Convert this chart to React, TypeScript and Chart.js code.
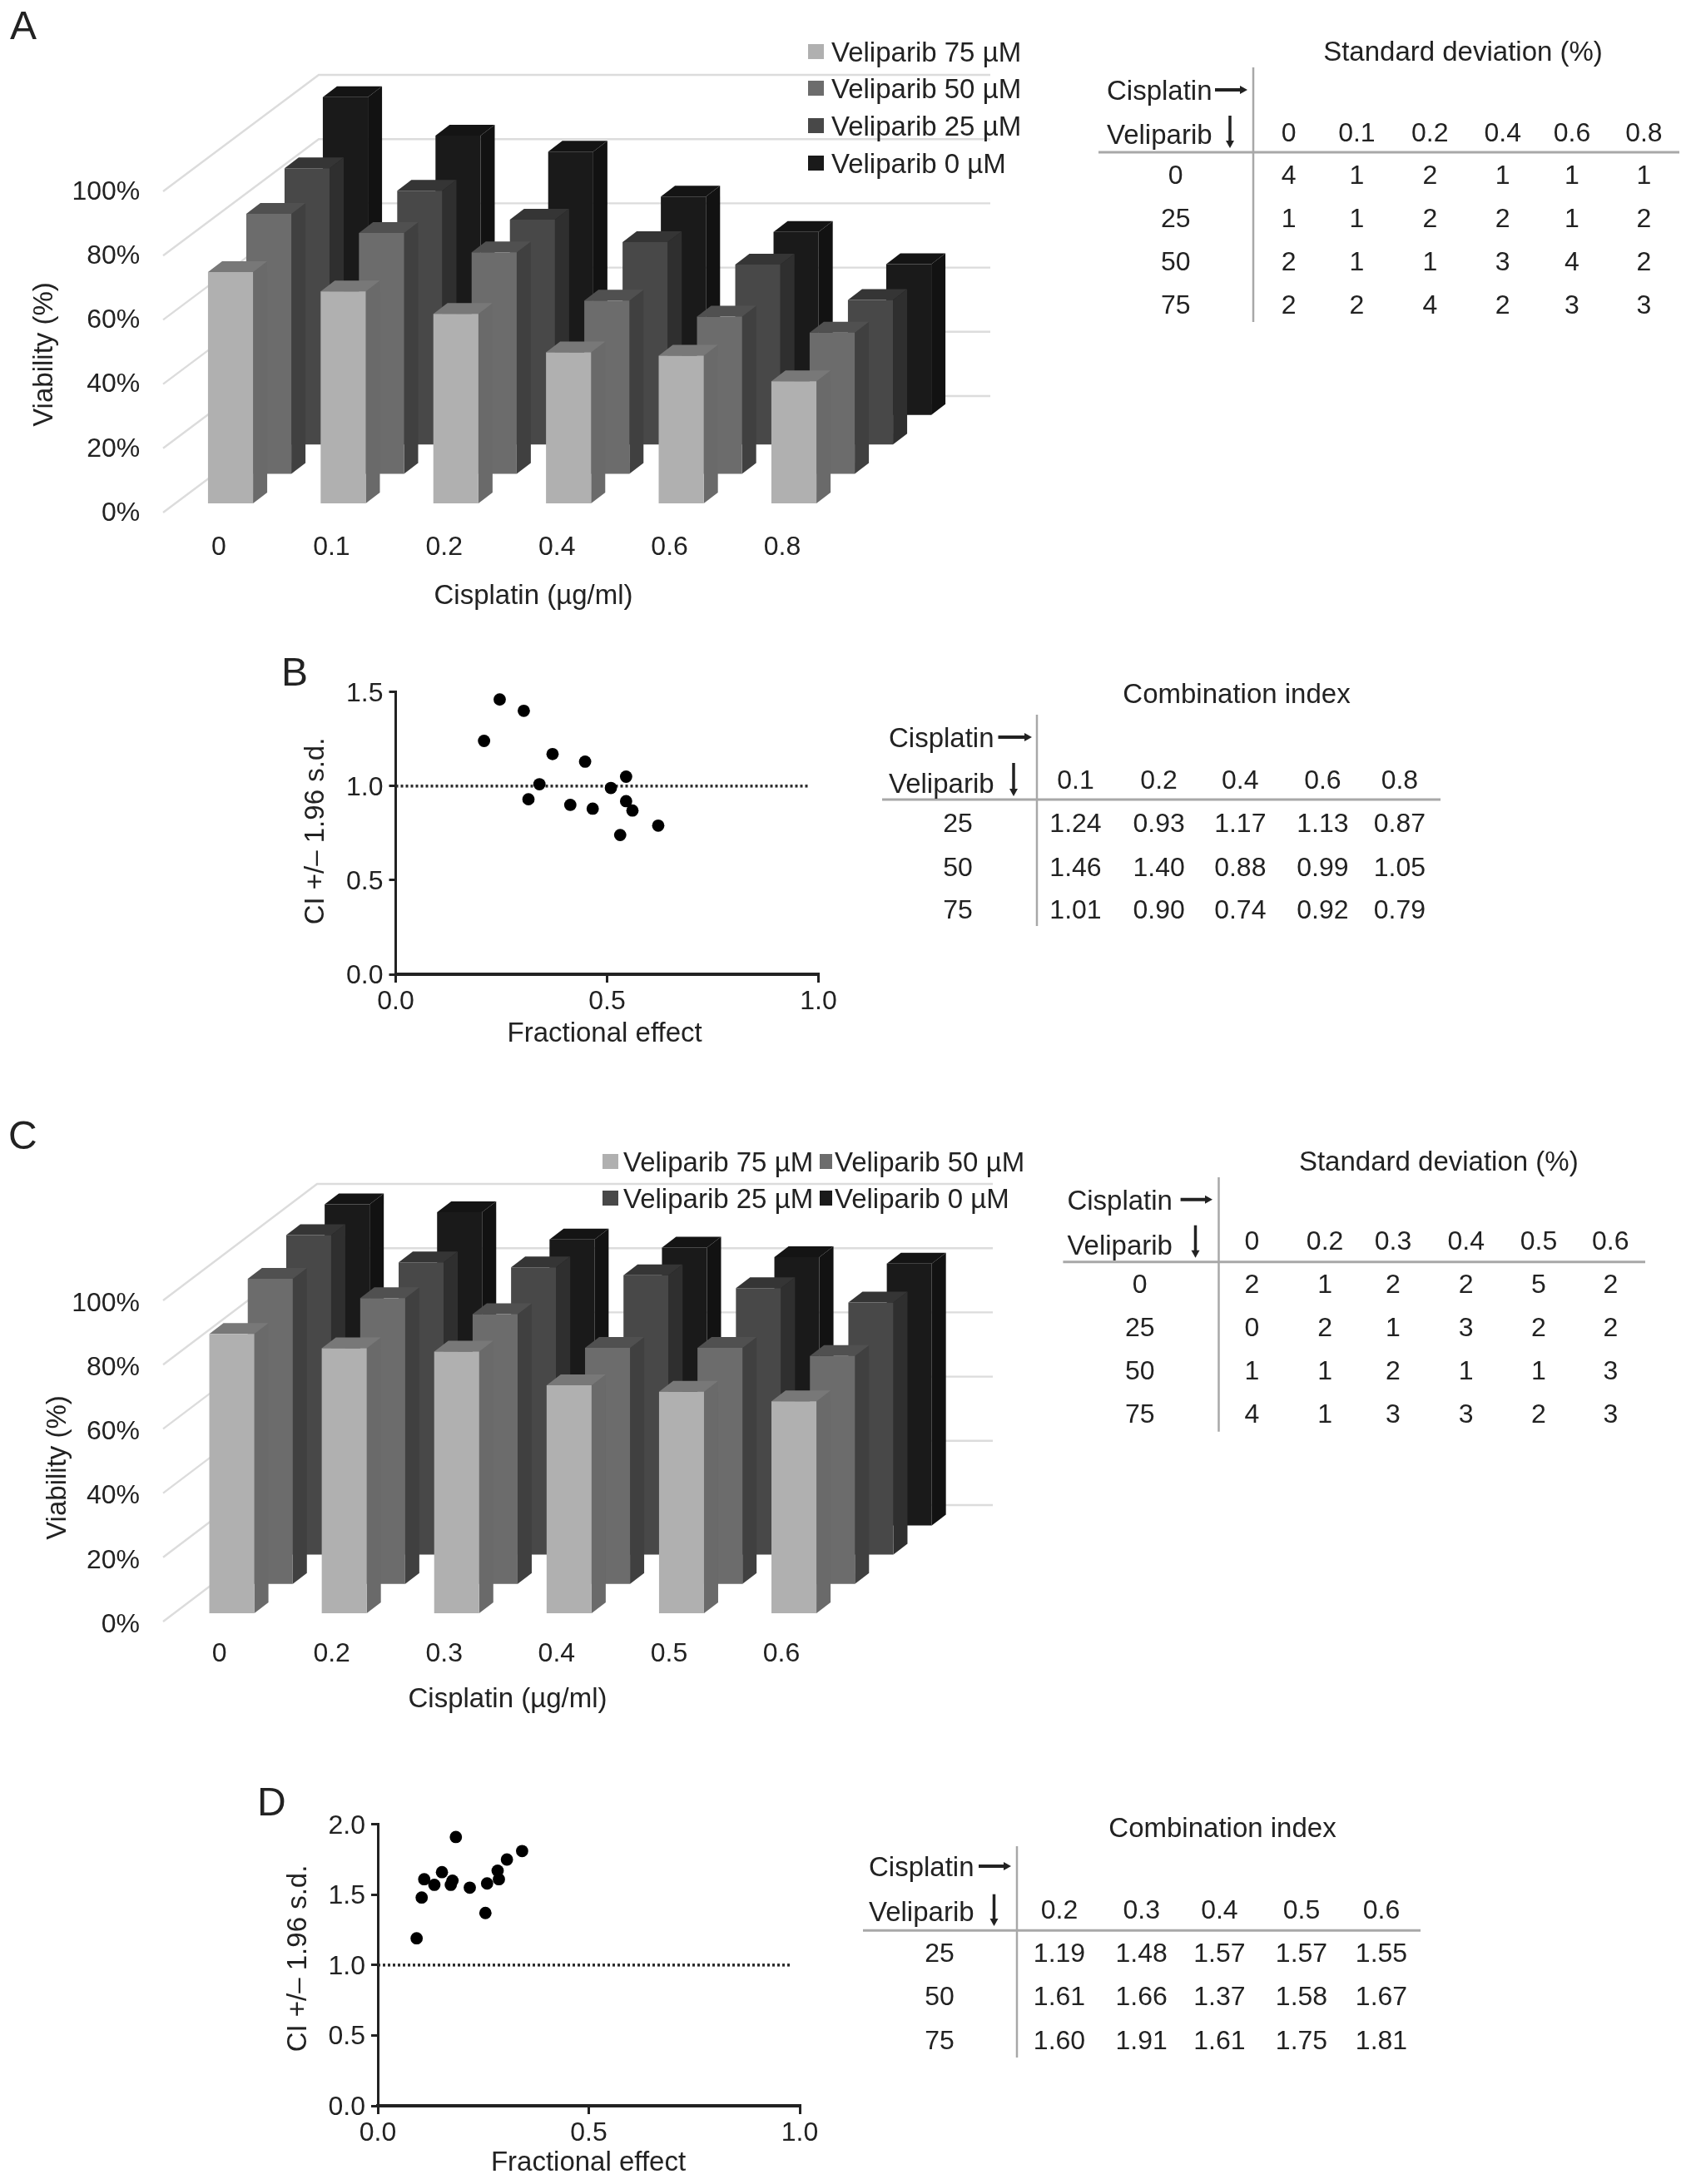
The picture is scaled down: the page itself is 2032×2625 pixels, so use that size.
import React, { useEffect, useRef } from "react";
import { Chart, registerables } from "chart.js";

Chart.register(...registerables);

// ---------- data ----------
const seriesLabels = ["Veliparib 75 µM", "Veliparib 50 µM", "Veliparib 25 µM", "Veliparib 0 µM"];

const categoriesA = ["0", "0.1", "0.2", "0.4", "0.6", "0.8"];
const viabilityA75 = [72, 66, 59, 47, 46, 38];
const viabilityA50 = [81, 75, 69, 54, 49, 44];
const viabilityA25 = [86, 79, 70, 63, 56, 45];
const viabilityA0 = [99, 87, 82, 68, 57, 47];

const categoriesC = ["0", "0.2", "0.3", "0.4", "0.5", "0.6"];
const viabilityC75 = [87, 82.5, 81.5, 71, 69, 66];
const viabilityC50 = [95, 89, 84, 73.5, 73.5, 71];
const viabilityC25 = [99.5, 91, 89.5, 87, 83, 78.5];
const viabilityC0 = [100, 97.5, 89, 86.5, 83.5, 81.5];

const effectB = [0.209, 0.246, 0.303, 0.371, 0.448, 0.545, 0.34, 0.509, 0.314, 0.545, 0.413, 0.466, 0.56, 0.621, 0.531];
const ciB = [1.24, 1.46, 1.4, 1.17, 1.13, 1.05, 1.01, 0.99, 0.93, 0.92, 0.9, 0.88, 0.87, 0.79, 0.74];

const effectD = [0.092, 0.104, 0.11, 0.134, 0.152, 0.173, 0.177, 0.185, 0.218, 0.255, 0.259, 0.284, 0.287, 0.306, 0.342];
const ciD = [1.19, 1.48, 1.61, 1.57, 1.66, 1.57, 1.6, 1.91, 1.55, 1.37, 1.58, 1.67, 1.61, 1.75, 1.81];

const sdRowLabels = ["0", "25", "50", "75"];
const ciRowLabels = ["25", "50", "75"];
const sdColsA = ["0", "0.1", "0.2", "0.4", "0.6", "0.8"];
const sdRowsA = [
  ["4", "1", "2", "1", "1", "1"],
  ["1", "1", "2", "2", "1", "2"],
  ["2", "1", "1", "3", "4", "2"],
  ["2", "2", "4", "2", "3", "3"],
];
const ciColsB = ["0.1", "0.2", "0.4", "0.6", "0.8"];
const ciRowsB = [
  ["1.24", "0.93", "1.17", "1.13", "0.87"],
  ["1.46", "1.40", "0.88", "0.99", "1.05"],
  ["1.01", "0.90", "0.74", "0.92", "0.79"],
];
const sdColsC = ["0", "0.2", "0.3", "0.4", "0.5", "0.6"];
const sdRowsC = [
  ["2", "1", "2", "2", "5", "2"],
  ["0", "2", "1", "3", "2", "2"],
  ["1", "1", "2", "1", "1", "3"],
  ["4", "1", "3", "3", "2", "3"],
];
const ciColsD = ["0.2", "0.3", "0.4", "0.5", "0.6"];
const ciRowsD = [
  ["1.19", "1.48", "1.57", "1.57", "1.55"],
  ["1.61", "1.66", "1.37", "1.58", "1.67"],
  ["1.60", "1.91", "1.61", "1.75", "1.81"],
];

// ---------- style ----------
const FONT = "'Liberation Sans', Arial, sans-serif";
const INK = "#222222";
const frontColors = ["#b0b0b0", "#6c6c6c", "#484848", "#1a1a1a"];
const sideColors = ["#6a6a6a", "#404040", "#2f2f2f", "#121212"];
const topColors = ["#787878", "#505050", "#353535", "#141414"];

type Rect = { left: number; top: number; right: number; bottom: number };

function fixedLayout(canvasW: number, canvasH: number, area: Rect) {
  return {
    padding: { top: area.top, right: canvasW - area.right, left: 0, bottom: 0 },
  };
}

function titlesPlugin(xTitle: string, xx: number, xy: number, yTitle: string, yx: number, yy: number) {
  return {
    id: "axisTitlesAt",
    afterDraw(chart: any) {
      const c = chart.ctx;
      c.save();
      c.font = `33px ${FONT}`;
      c.fillStyle = INK;
      c.textAlign = "center";
      c.textBaseline = "middle";
      c.fillText(xTitle, xx, xy);
      c.translate(yx, yy);
      c.rotate(-Math.PI / 2);
      c.fillText(yTitle, 0, 0);
      c.restore();
    },
  };
}

function make3D(
  canvas: HTMLCanvasElement,
  cfg: {
    w: number; h: number; area: Rect; labels: string[]; series: number[][];
    gridOffset: number; labelOffsetY: number; labelOffsetX: number; xPad: number; yPad: number;
    gridLeft: number; gridBack: number; gridRight: number; gridDepth: number;
    stepX: number; stepY: number; title: any;
  }
) {
  const faceDX = 17;
  const faceDY = 13;
  const depthPlugin = {
    id: "depthBars",
    beforeDatasetsDraw(chart: any) {
      const c = chart.ctx;
      const y = chart.scales.y;
      c.save();
      c.strokeStyle = "#dcdcdc";
      c.lineWidth = 2.4;
      for (const t of y.ticks) {
        const py = y.getPixelForValue(t.value) + cfg.gridOffset;
        c.beginPath();
        c.moveTo(cfg.gridLeft, py);
        c.lineTo(cfg.gridBack, py - cfg.gridDepth);
        c.lineTo(cfg.gridRight, py - cfg.gridDepth);
        c.stroke();
      }
      c.restore();
    },
    beforeDatasetDraw(chart: any, args: any) {
      const c = chart.ctx;
      const i = args.index;
      c.save();
      c.translate(i * cfg.stepX, -i * cfg.stepY);
      for (const bar of chart.getDatasetMeta(i).data) {
        const { x, y, base, width } = bar.getProps(["x", "y", "base", "width"], true);
        const l = x - width / 2;
        const r = x + width / 2;
        c.fillStyle = sideColors[i];
        c.beginPath();
        c.moveTo(r, y);
        c.lineTo(r + faceDX, y - faceDY);
        c.lineTo(r + faceDX, base - faceDY);
        c.lineTo(r, base);
        c.closePath();
        c.fill();
        c.fillStyle = topColors[i];
        c.beginPath();
        c.moveTo(l, y);
        c.lineTo(l + faceDX, y - faceDY);
        c.lineTo(r + faceDX, y - faceDY);
        c.lineTo(r, y);
        c.closePath();
        c.fill();
      }
    },
    afterDatasetDraw(chart: any) {
      chart.ctx.restore();
    },
  };
  return new Chart(canvas, {
    type: "bar",
    data: {
      labels: cfg.labels,
      datasets: cfg.series.map((values, i) => ({
        label: seriesLabels[i],
        data: values,
        backgroundColor: frontColors[i],
        borderWidth: 0,
        barPercentage: 0.4,
        categoryPercentage: 1,
        clip: false,
      })),
    },
    options: {
      responsive: false,
      animation: false,
      devicePixelRatio: 1,
      layout: fixedLayout(cfg.w, cfg.h, cfg.area),
      plugins: { legend: { display: false }, title: { display: false }, tooltip: { enabled: false } },
      scales: {
        x: {
          stacked: true,
          grid: { display: false, drawTicks: false },
          border: { display: false },
          afterFit: (s: any) => { s.height = cfg.h - cfg.area.bottom; },
          ticks: {
            color: INK, font: { family: FONT, size: 32 }, padding: cfg.xPad,
            labelOffset: cfg.labelOffsetX, maxRotation: 0, autoSkip: false,
          },
        },
        y: {
          min: 0, max: 100,
          grid: { display: false, drawTicks: false },
          border: { display: false },
          afterFit: (s: any) => { s.width = cfg.area.left; },
          ticks: {
            stepSize: 20, color: INK, font: { family: FONT, size: 32 }, padding: cfg.yPad,
            labelOffset: cfg.labelOffsetY,
            callback: (v: any) => `${v}%`,
          },
        },
      },
    } as any,
    plugins: [depthPlugin, cfg.title],
  } as any);
}

function makeScatter(
  canvas: HTMLCanvasElement,
  cfg: {
    w: number; h: number; area: Rect; xs: number[]; ys: number[]; yMax: number; refEnd: number; title: any;
  }
) {
  const tick = { color: INK, font: { family: FONT, size: 32 } };
  return new Chart(canvas, {
    type: "scatter",
    data: {
      datasets: [
        {
          label: "CI",
          data: cfg.xs.map((x, i) => ({ x, y: cfg.ys[i] })),
          backgroundColor: "#000000",
          borderColor: "#000000",
          pointRadius: 7.4,
          pointBorderWidth: 0,
          clip: false,
        },
        {
          label: "CI = 1",
          data: [{ x: 0, y: 1 }, { x: cfg.refEnd, y: 1 }],
          showLine: true,
          borderColor: "#2a2a2a",
          borderWidth: 3.5,
          borderDash: [3, 3],
          pointRadius: 0,
        },
      ],
    },
    options: {
      responsive: false,
      animation: false,
      devicePixelRatio: 1,
      layout: fixedLayout(cfg.w, cfg.h, cfg.area),
      plugins: { legend: { display: false }, title: { display: false }, tooltip: { enabled: false } },
      scales: {
        x: {
          type: "linear", min: 0, max: 1,
          grid: { drawOnChartArea: false, color: "#222222", lineWidth: 3, tickLength: 10 },
          border: { color: "#222222", width: 4 },
          afterFit: (s: any) => { s.height = cfg.h - cfg.area.bottom; },
          ticks: { ...tick, stepSize: 0.5, padding: 4, maxRotation: 0, callback: (v: any) => Number(v).toFixed(1) },
        },
        y: {
          type: "linear", min: 0, max: cfg.yMax,
          grid: { drawOnChartArea: false, color: "#222222", lineWidth: 3, tickLength: 8 },
          border: { color: "#222222", width: 3 },
          afterFit: (s: any) => { s.width = cfg.area.left; },
          ticks: { ...tick, stepSize: 0.5, padding: 7, labelOffset: 2, callback: (v: any) => Number(v).toFixed(1) },
        },
      },
    } as any,
    plugins: [cfg.title],
  } as any);
}

// ---------- DOM helpers ----------
function Txt({ x, y, t, size = 32, left = false }: { x: number; y: number; t: string; size?: number; left?: boolean }) {
  return (
    <span
      style={{
        position: "absolute", left: x, top: y, lineHeight: 1, fontSize: size, color: INK, whiteSpace: "nowrap",
        fontFamily: FONT, transform: left ? "translateY(-50%)" : "translate(-50%,-50%)",
      }}
    >
      {t}
    </span>
  );
}

type TableSpec = {
  title: string; titleX: number; titleY: number;
  vx: number; vy1: number; vy2: number; hy: number; hx1: number; hx2: number;
  labelX: number; cisY: number; velY: number;
  arrX1: number; arrX2: number; downX: number; downY1: number; downY2: number;
  colX: number[]; headY: number; rowY: number[]; rowLabelX: number;
  cols: string[]; rows: string[][]; rowLabels: string[];
};

function Table({ s }: { s: TableSpec }) {
  return (
    <>
      <svg style={{ position: "absolute", left: 0, top: 0 }} width={2032} height={2625}>
        <line x1={s.vx} x2={s.vx} y1={s.vy1} y2={s.vy2} stroke="#a8a8a8" strokeWidth={2.5} />
        <line x1={s.hx1} x2={s.hx2} y1={s.hy} y2={s.hy} stroke="#a8a8a8" strokeWidth={3} />
        <line x1={s.arrX1} x2={s.arrX2 - 6} y1={s.cisY} y2={s.cisY} stroke="#222" strokeWidth={4} />
        <polygon points={`${s.arrX2},${s.cisY} ${s.arrX2 - 9},${s.cisY - 5} ${s.arrX2 - 9},${s.cisY + 5}`} fill="#222" />
        <line x1={s.downX} x2={s.downX} y1={s.downY1} y2={s.downY2 - 6} stroke="#222" strokeWidth={3.5} />
        <polygon points={`${s.downX},${s.downY2} ${s.downX - 5},${s.downY2 - 9} ${s.downX + 5},${s.downY2 - 9}`} fill="#222" />
      </svg>
      <Txt x={s.titleX} y={s.titleY} t={s.title} size={33} />
      <Txt x={s.labelX} y={s.cisY} t="Cisplatin" size={33} left />
      <Txt x={s.labelX} y={s.velY} t="Veliparib" size={33} left />
      {s.cols.map((c, i) => <Txt key={`h${i}`} x={s.colX[i]} y={s.headY} t={c} />)}
      {s.rows.map((row, r) => (
        <React.Fragment key={`r${r}`}>
          <Txt x={s.rowLabelX} y={s.rowY[r]} t={s.rowLabels[r]} />
          {row.map((v, i) => <Txt key={i} x={s.colX[i]} y={s.rowY[r]} t={v} />)}
        </React.Fragment>
      ))}
    </>
  );
}

function ChartBox({ x, y, w, h, build }: { x: number; y: number; w: number; h: number; build: (c: HTMLCanvasElement) => Chart }) {
  const ref = useRef<HTMLCanvasElement>(null);
  useEffect(() => {
    const chart = build(ref.current as HTMLCanvasElement);
    return () => chart.destroy();
  }, []);
  return (
    <div style={{ position: "absolute", left: x, top: y, width: w, height: h }}>
      <canvas ref={ref} width={w} height={h} />
    </div>
  );
}

function Swatch({ x, y, w, i }: { x: number; y: number; w: number; i: number }) {
  return <div style={{ position: "absolute", left: x, top: y - 9, width: w, height: 18, background: frontColors[i] }} />;
}

// ---------- layout ----------
const tableA: TableSpec = {
  title: "Standard deviation (%)", titleX: 1758, titleY: 61,
  vx: 1506, vy1: 81, vy2: 387, hy: 183, hx1: 1320, hx2: 2018,
  labelX: 1330, cisY: 108, velY: 161, arrX1: 1460, arrX2: 1499, downX: 1478, downY1: 139, downY2: 178,
  colX: [1548.6, 1630.4, 1718.3, 1805.7, 1889, 1975.4], headY: 159, rowY: [209.7, 261.7, 314, 365.7], rowLabelX: 1412.7,
  cols: sdColsA, rows: sdRowsA, rowLabels: sdRowLabels,
};
const tableB: TableSpec = {
  title: "Combination index", titleX: 1486, titleY: 833,
  vx: 1246, vy1: 859, vy2: 1113, hy: 961, hx1: 1060, hx2: 1731,
  labelX: 1068, cisY: 886, velY: 940.7, arrX1: 1199.5, arrX2: 1240, downX: 1218, downY1: 917, downY2: 957,
  colX: [1292.5, 1392.6, 1490.3, 1589.4, 1681.9], headY: 936.7, rowY: [989, 1041.7, 1093], rowLabelX: 1151,
  cols: ciColsB, rows: ciRowsB, rowLabels: ciRowLabels,
};
const tableC: TableSpec = {
  title: "Standard deviation (%)", titleX: 1728.8, titleY: 1395,
  vx: 1464.5, vy1: 1415, vy2: 1720.7, hy: 1516.7, hx1: 1277.4, hx2: 1977,
  labelX: 1282.4, cisY: 1441.7, velY: 1496, arrX1: 1418.6, arrX2: 1457, downX: 1436.5, downY1: 1472.7, downY2: 1511.7,
  colX: [1504.4, 1592.1, 1674, 1761.7, 1849, 1935.3], headY: 1490.7, rowY: [1542.7, 1595, 1646.7, 1699.3], rowLabelX: 1369.7,
  cols: sdColsC, rows: sdRowsC, rowLabels: sdRowLabels,
};
const tableD: TableSpec = {
  title: "Combination index", titleX: 1469, titleY: 2196,
  vx: 1222, vy1: 2219, vy2: 2473, hy: 2320.3, hx1: 1037, hx2: 1707,
  labelX: 1044, cisY: 2243, velY: 2297, arrX1: 1176, arrX2: 1215, downX: 1194.5, downY1: 2276.7, downY2: 2315,
  colX: [1273, 1371.7, 1465.4, 1564, 1660], headY: 2295, rowY: [2347, 2399, 2451.7], rowLabelX: 1129,
  cols: ciColsD, rows: ciRowsD, rowLabels: ciRowLabels,
};

export default function App() {
  return (
    <div style={{ position: "absolute", left: 0, top: 0, width: 2032, height: 2625, background: "#fff", overflow: "hidden", filter: "blur(0.5px)" }}>
      <ChartBox x={0} y={0} w={1240} h={760} build={(c) => make3D(c, {
        w: 1240, h: 760, area: { left: 209.3, right: 1021.7, top: 219, bottom: 605 },
        labels: categoriesA, series: [viabilityA75, viabilityA50, viabilityA25, viabilityA0],
        gridOffset: 11, labelOffsetY: 12, labelOffsetX: -14, xPad: 34, yPad: 41,
        gridLeft: 196, gridBack: 383, gridRight: 1190, gridDepth: 140, stepX: 46, stepY: 35.4,
        title: titlesPlugin("Cisplatin (µg/ml)", 641, 717, "Viability (%)", 54, 426),
      })} />
      <ChartBox x={300} y={760} w={760} h={520} build={(c) => makeScatter(c, {
        w: 760, h: 520, area: { left: 175.5, right: 683.5, top: 71.7, bottom: 411 },
        xs: effectB, ys: ciB, yMax: 1.5, refEnd: 0.98,
        title: titlesPlugin("Fractional effect", 426.6, 482.7, "CI +/– 1.96 s.d.", 80, 239),
      })} />
      <ChartBox x={0} y={1340} w={1250} h={760} build={(c) => make3D(c, {
        w: 1250, h: 760, area: { left: 211, right: 1021.6, top: 213, bottom: 599 },
        labels: categoriesC, series: [viabilityC75, viabilityC50, viabilityC25, viabilityC0],
        gridOffset: 10, labelOffsetY: 14, labelOffsetX: -15, xPad: 30, yPad: 43,
        gridLeft: 196, gridBack: 381, gridRight: 1193, gridDepth: 140, stepX: 46.2, stepY: 35.2,
        title: titlesPlugin("Cisplatin (µg/ml)", 610, 703, "Viability (%)", 70, 424),
      })} />
      <ChartBox x={290} y={2150} w={720} h={475} build={(c) => makeScatter(c, {
        w: 720, h: 475, area: { left: 164, right: 671, top: 42.7, bottom: 381 },
        xs: effectD, ys: ciD, yMax: 2, refEnd: 0.98,
        title: titlesPlugin("Fractional effect", 417, 450, "CI +/– 1.96 s.d.", 69, 204),
      })} />

      {seriesLabels.map((t, i) => (
        <React.Fragment key={`la${i}`}>
          <Swatch x={971} y={61.6 + i * 44.8} w={19} i={i} />
          <Txt x={999} y={61.6 + i * 44.8} t={t} size={33} left />
        </React.Fragment>
      ))}
      {seriesLabels.map((t, i) => (
        <React.Fragment key={`lc${i}`}>
          <Swatch x={i % 2 ? 985 : 724} y={i < 2 ? 1396 : 1440} w={i % 2 ? 15 : 19} i={i} />
          <Txt x={i % 2 ? 1003 : 749} y={i < 2 ? 1396 : 1440} t={t} size={33} left />
        </React.Fragment>
      ))}

      <Table s={tableA} />
      <Table s={tableB} />
      <Table s={tableC} />
      <Table s={tableD} />

      <Txt x={12} y={31} t="A" size={48} left />
      <Txt x={338} y={808} t="B" size={48} left />
      <Txt x={10} y={1365} t="C" size={48} left />
      <Txt x={309} y={2166} t="D" size={48} left />
    </div>
  );
}
